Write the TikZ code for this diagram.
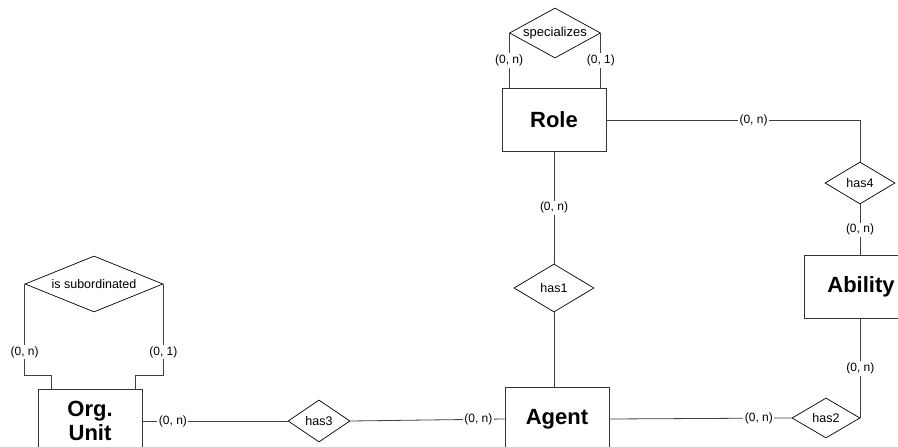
\documentclass[tikz,border=0pt]{standalone}
\usepackage{fontspec}
\setmainfont{Liberation Sans}
\usetikzlibrary{calc,positioning,shapes,shapes.geometric}

\begin{document}
\begin{tikzpicture}[x=1pt,y=-1pt,
  entity/.style={draw=black!80,line width=0.9pt,minimum width=104pt,minimum height=63pt,inner sep=0pt,align=center,font=\fontsize{22}{24}\selectfont\bfseries},
  rel/.style={draw,diamond,inner sep=0pt,line width=0.7pt,font=\fontsize{12.5}{14}\selectfont},
  card/.style={fill=white,inner sep=1.5pt,font=\fontsize{12}{13}\selectfont},
  link/.style={draw=black!75,line width=0.8pt}
  ]

  \useasboundingbox (0,0) rectangle (898,447);
  \fill[white] (0,0) rectangle (898,447);
  \clip (0,0) rectangle (898,447);

  \node[entity] (role) at (554,120) {Role};
  \node[entity] (agent) at (557,419) {Agent};
  \node[entity,minimum width=114pt] (ability) at (861,287) {Ability};
  \node[entity] (org) at (90,421) {Org.\\Unit};

  \node[rel,aspect=1.82,minimum width=91pt,minimum height=50pt,font=\fontsize{13}{14}\selectfont] (spec) at (555,33) {specializes};
  \node[rel,aspect=1.67,minimum width=80pt,minimum height=48pt] (has1) at (554,288) {has1};
  \node[rel,aspect=1.7,minimum width=68pt,minimum height=40pt] (has2) at (826,418) {has2};
  \node[rel,aspect=1.48,minimum width=62pt,minimum height=42pt] (has3) at (319,421) {has3};
  \node[rel,aspect=1.67,minimum width=70pt,minimum height=42pt] (has4) at (860,183) {has4};
  \node[rel,aspect=2.46,minimum width=138pt,minimum height=56pt] (sub) at (94,284) {is subordinated};

  \coordinate (subbend) at (0,375);

  % Role
  \draw[link] (spec.west) -- node[card] {(0, n)} (spec.west |- role.north);
  \draw[link] (spec.east) -- node[card] {(0, 1)} (spec.east |- role.north);
  \draw[link] (role.east) -| node[card,pos=0.29] {(0, n)} (has4.north);
  \draw[link] (has4.south) -- node[card] {(0, n)} (has4.south |- ability.north);
  \draw[link] (role.south) -- node[card] {(0, n)} (has1.north);
  \draw[link] (has1.south) -- (has1.south |- agent.north);

  % Agent
  \draw[link] (agent.east) -- node[card,pos=0.82] {(0, n)} (has2.west);
  \draw[link] (has2.east) -- node[card] {(0, n)} (has2.east |- ability.south);
  \draw[link] (agent.west) -- node[card,pos=0.17] {(0, n)} (has3.east);
  \draw[link] (has3.west) -- node[card,pos=0.79] {(0, n)} (org.east);

  % Org. Unit
  \draw[link] (sub.west) -- node[card,pos=0.75] {(0, n)} (sub.west |- subbend)
    -| ([xshift=14pt]org.north west);
  \draw[link] (sub.east) -- node[card,pos=0.75] {(0, 1)} (sub.east |- subbend)
    -| ([xshift=-7pt]org.north east);

\end{tikzpicture}
\end{document}
